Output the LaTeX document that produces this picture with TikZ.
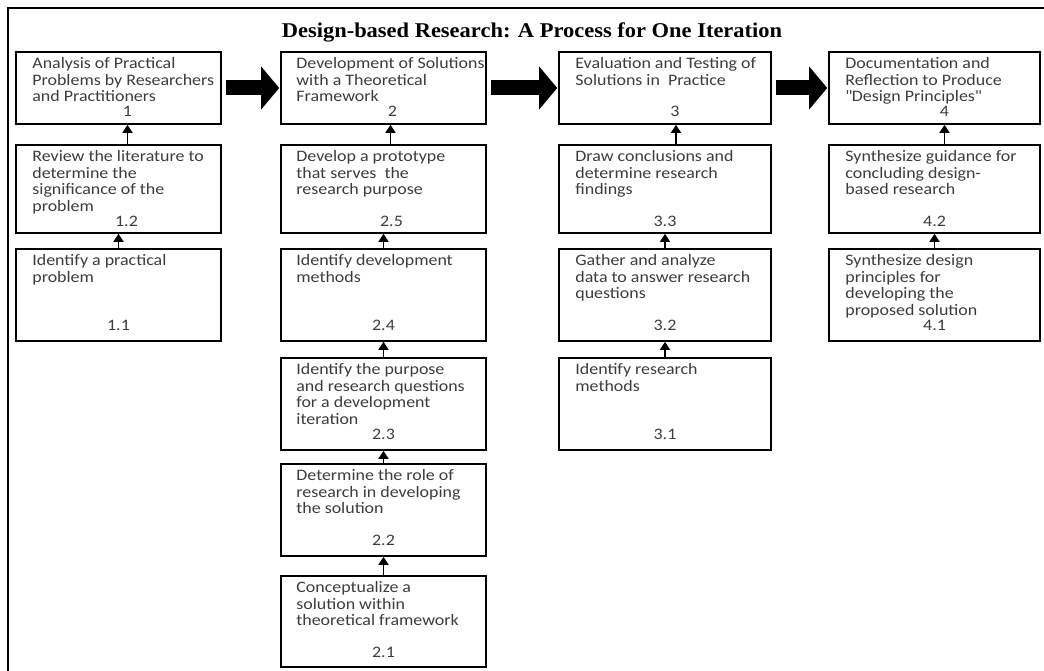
\documentclass[tikz,border=0pt]{standalone}
\usepackage{fontspec}
\setmainfont[FakeStretch=1.12]{Carlito}
\newfontfamily\titlefont[FakeStretch=1.07]{Liberation Serif}
\usetikzlibrary{arrows.meta}
\definecolor{boxtext}{HTML}{3C3C3C}
\begin{document}
\begin{tikzpicture}[x=1pt, y=1pt,
		box/.style={draw, rectangle, line width=1.6pt, inner sep=0pt},
		txt/.style={anchor=north west, inner sep=0pt, align=left, text=boxtext, font=\fontsize{16}{16.7}\selectfont},
		num/.style={anchor=base, inner sep=0pt, text=boxtext, font=\fontsize{16}{16.7}\selectfont},
		bigarrow/.style={line width=15pt, -{Triangle[length=18pt, width=42pt]}, shorten <=4pt, shorten >=1pt},
		uparrow/.style={line width=1.6pt, -{Triangle[length=8pt, width=10pt]}}]
		\useasboundingbox (0,0) rectangle (1044,-671);
		\draw[line width=2.4pt] (8,-671) -- (8,-8) -- (1044,-8);
		\node[anchor=base, font=\titlefont\bfseries\fontsize{21}{24}\selectfont] (title) at (532,-38) {Design-based Research: A Process for One Iteration};
		% column 1
		\node[box, minimum width=205, minimum height=72] (b1) at (118.5,-88) {};
		\node[txt] at ([shift={(17,-6)}]b1.north west) {Analysis of Practical\\Problems by Researchers\\and Practitioners};
		\node[num] at ([shift={(9,-65.5)}]b1.north) {1};
		\node[box, minimum width=205, minimum height=88] (b12) at (118.5,-189) {};
		\node[txt] at ([shift={(17,-6)}]b12.north west) {Review the literature to\\determine the\\significance of the\\problem};
		\node[num] at ([shift={(8,-82)}]b12.north) {1.2};
		\node[box, minimum width=205, minimum height=92] (b11) at (118.5,-295) {};
		\node[txt] at ([shift={(17,-6)}]b11.north west) {Identify a practical\\problem};
		\node[num] at ([shift={(0,-82)}]b11.north) {1.1};
		% column 2
		\node[box, minimum width=205, minimum height=72] (b2) at (383.5,-88) {};
		\node[txt] at ([shift={(16,-6)}]b2.north west) {Development of Solutions\\with a Theoretical\\Framework};
		\node[num] at ([shift={(9,-65.5)}]b2.north) {2};
		\node[box, minimum width=205, minimum height=88] (b25) at (383.5,-189) {};
		\node[txt] at ([shift={(16,-6)}]b25.north west) {Develop a prototype\\that serves\ \ the\\research purpose};
		\node[num] at ([shift={(8,-82)}]b25.north) {2.5};
		\node[box, minimum width=205, minimum height=92] (b24) at (383.5,-295) {};
		\node[txt] at ([shift={(16,-6)}]b24.north west) {Identify development\\methods};
		\node[num] at ([shift={(0,-82)}]b24.north) {2.4};
		\node[box, minimum width=205, minimum height=92] (b23) at (383.5,-404) {};
		\node[txt] at ([shift={(16,-6)}]b23.north west) {Identify the purpose\\and research questions\\for a development\\iteration};
		\node[num] at ([shift={(0,-82)}]b23.north) {2.3};
		\node[box, minimum width=205, minimum height=92] (b22) at (383.5,-510) {};
		\node[txt] at ([shift={(16,-6)}]b22.north west) {Determine the role of\\research in developing\\the solution};
		\node[num] at ([shift={(0,-82)}]b22.north) {2.2};
		\node[box, minimum width=205, minimum height=91] (b21) at (383.5,-621.5) {};
		\node[txt] at ([shift={(16,-6)}]b21.north west) {Conceptualize a\\solution within\\theoretical framework};
		\node[num] at ([shift={(0,-82)}]b21.north) {2.1};
		% column 3
		\node[box, minimum width=212, minimum height=72] (b3) at (665,-88) {};
		\node[txt] at ([shift={(17,-6)}]b3.north west) {Evaluation and Testing of\\Solutions in\ \ Practice};
		\node[num] at ([shift={(10,-65.5)}]b3.north) {3};
		\node[box, minimum width=212, minimum height=88] (b33) at (665,-189) {};
		\node[txt] at ([shift={(17,-6)}]b33.north west) {Draw conclusions and\\determine research\\findings};
		\node[num] at ([shift={(0,-82)}]b33.north) {3.3};
		\node[box, minimum width=212, minimum height=92] (b32) at (665,-295) {};
		\node[txt] at ([shift={(17,-6)}]b32.north west) {Gather and analyze\\data to answer research\\questions};
		\node[num] at ([shift={(0,-82)}]b32.north) {3.2};
		\node[box, minimum width=212, minimum height=92] (b31) at (665,-404) {};
		\node[txt] at ([shift={(17,-6)}]b31.north west) {Identify research\\methods};
		\node[num] at ([shift={(0,-82)}]b31.north) {3.1};
		% column 4
		\node[box, minimum width=211, minimum height=72] (b4) at (934.5,-88) {};
		\node[txt] at ([shift={(17,-6)}]b4.north west) {Documentation and\\Reflection to Produce\\\textquotedbl Design Principles\textquotedbl};
		\node[num] at ([shift={(10,-65.5)}]b4.north) {4};
		\node[box, minimum width=211, minimum height=88] (b42) at (934.5,-189) {};
		\node[txt] at ([shift={(17,-6)}]b42.north west) {Synthesize guidance for\\concluding design-\\based research};
		\node[num] at ([shift={(0,-82)}]b42.north) {4.2};
		\node[box, minimum width=211, minimum height=92] (b41) at (934.5,-295) {};
		\node[txt] at ([shift={(17,-6)}]b41.north west) {Synthesize design\\principles for\\developing the\\proposed solution};
		\node[num] at ([shift={(0,-82)}]b41.north) {4.1};
		% arrows
		\draw[bigarrow] (b1) -- (b2);
		\draw[bigarrow] (b2) -- (b3);
		\draw[bigarrow] (b3) -- (b4);
		\draw[uparrow] ([xshift=9pt]b12.north) -- ([xshift=9pt]b1.south);
		\draw[uparrow] (b11) -- (b12);
		\draw[uparrow] ([xshift=7pt]b25.north) -- ([xshift=7pt]b2.south);
		\draw[uparrow] (b24) -- (b25);
		\draw[uparrow] (b23) -- (b24);
		\draw[uparrow] (b22) -- (b23);
		\draw[uparrow] (b21) -- (b22);
		\draw[uparrow] ([xshift=11pt]b33.north) -- ([xshift=11pt]b3.south);
		\draw[uparrow] (b32) -- (b33);
		\draw[uparrow] (b31) -- (b32);
		\draw[uparrow] ([xshift=10pt]b42.north) -- ([xshift=10pt]b4.south);
		\draw[uparrow] (b41) -- (b42);
	\end{tikzpicture}
\end{document}
